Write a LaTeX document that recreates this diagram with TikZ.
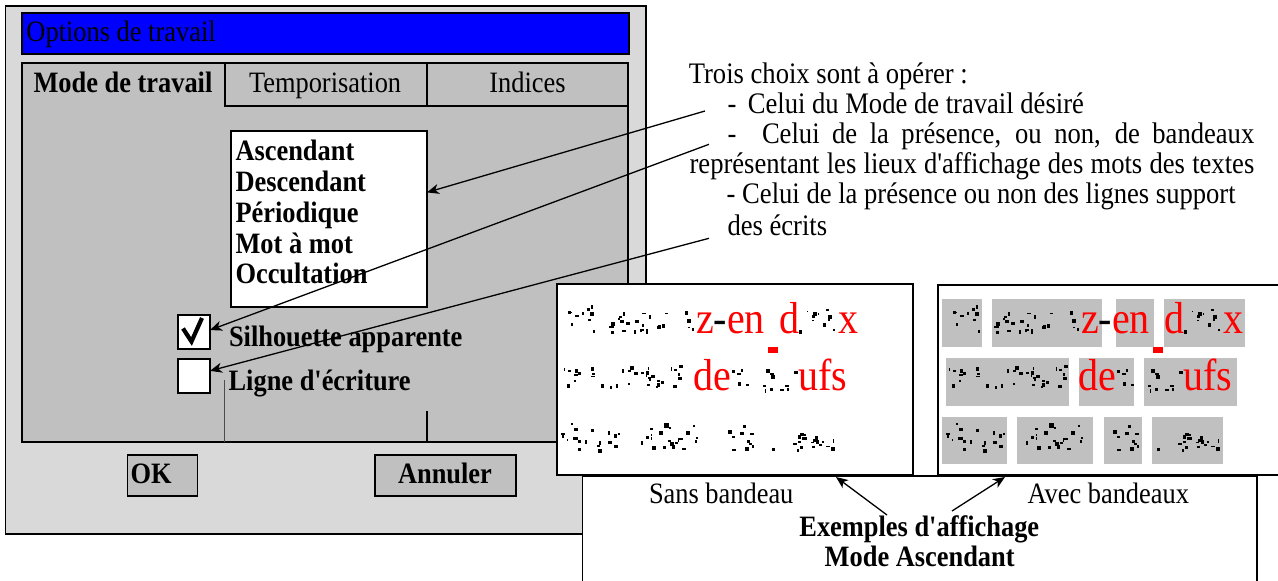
\documentclass[tikz,border=0pt]{standalone}
\usepackage{graphicx}
\usepackage{fontspec}
\setmainfont{Liberation Serif}
\usetikzlibrary{arrows.meta}
\definecolor{dlg}{HTML}{D9D9D9}
\definecolor{pnl}{HTML}{C0C0C0}
\definecolor{ttl}{HTML}{0000FF}
\definecolor{redtxt}{HTML}{FF0000}
\newcommand{\ap}{\textquotesingle}
\newcommand{\ys}[1]{\scalebox{1}[1.12]{#1}}
\newcommand{\noiseblk}[4]{%
  \pgfmathtruncatemacro{\nnoise}{max(3,(#2-#1)/3.2)}%
  \foreach \k in {1,...,\nnoise}{%
    \pgfmathsetmacro{\nxa}{#1+rnd*(#2-#1)}%
    \pgfmathsetmacro{\nya}{#3+rnd*(#4-#3)}%
    \pgfmathsetmacro{\nwa}{1.5+rnd*3}%
    \pgfmathsetmacro{\nha}{1.5+rnd*2.8}%
    \fill[black] (\nxa,\nya) rectangle ++(\nwa,\nha);
  }}
\newcommand{\examplecontent}[1]{%
  \pgfmathsetseed{4321}%
  \foreach \ra/\rb/\rc/\rd in {561/596/305/331, 609/694/307/331, 799/836/307/331,
      563/683/365/389, 731/748/367/389, 762/797/367/389,
      561/620/423/450, 636/706/423/450, 722/756/423/450, 770/836/425/450}{%
    \noiseblk{\ra}{\rb}{\rc}{\rd}}%
  \node[redw, anchor=base west] (#1w1) at (696,333) {\ys{z\textcolor{black}{-}en}};
  \node[redw, anchor=base west] (#1w2) at (779,333) {\ys{d}};
  \node[redw, anchor=base west] (#1w3) at (838,333) {\ys{x}};
  \node[redw, anchor=base west] (#1w4) at (693,390) {\ys{de}};
  \node[redw, anchor=base west] (#1w5) at (798,390) {\ys{ufs}};
  \fill[redtxt] (767.5,347) rectangle (777.5,353);
}
\begin{document}
\begin{tikzpicture}[x=1pt,y=-1pt,
  txt/.style={font=\fontsize{26.4}{30}\selectfont, inner sep=0pt, outer sep=0pt},
  btxt/.style={font=\fontsize{26.4}{30}\selectfont\bfseries, inner sep=0pt, outer sep=0pt},
  rtxt/.style={font=\fontsize{26.6}{30}\selectfont, inner sep=0pt, outer sep=0pt},
  redw/.style={font=\fontsize{40}{40}\selectfont, text=redtxt, inner sep=0pt, outer sep=0pt},
  frame/.style={draw=black, line width=1.6pt},
  box/.style={draw=black, line width=2pt, inner sep=0pt, outer sep=0pt},
  arr/.style={-{Stealth[length=12pt,width=10pt,inset=3.5pt]}, line width=1.3pt},
]
\useasboundingbox (0,0) rectangle (1278,581);
\clip (0,0) rectangle (1278,581);

% dialog
\fill[dlg] (5.5,6) rectangle (646,534);
\draw[frame] (5.5,6) rectangle (646,534);
\draw[frame, fill=ttl] (22,13) rectangle (629,54);
\node[txt, anchor=base west] (title) at (26.5,41.5) {\ys{Options de travail}};
\draw[frame, fill=pnl] (22,63) rectangle (628,442);
\draw[frame] (225,63) -- (225,106) -- (628,106);
\draw[frame] (427,63) -- (427,106);
\node[btxt, anchor=base west] (tab1) at (33.5,92) {\ys{Mode de travail}};
\node[txt, anchor=base west] (tab2) at (249,92) {\ys{Temporisation}};
\node[txt, anchor=base] (tab3) at (527.5,92) {\ys{Indices}};
\draw[line width=0.9pt, black!70] (224,380) -- (224,442);
\draw[line width=1.2pt] (427,411) -- (427,442);

% list
\node[box, fill=white, minimum width=196.4pt, minimum height=176pt, anchor=north west] (list) at (230.6,130.7) {};
\node[btxt, anchor=base west] (l1) at (235.5,160) {\ys{Ascendant}};
\node[btxt, anchor=base west] (l2) at (235.5,191.5) {\ys{Descendant}};
\node[btxt, anchor=base west] (l3) at (235.5,222) {\ys{Périodique}};
\node[btxt, anchor=base west] (l4) at (235.5,253) {\ys{Mot à mot}};
\node[btxt, anchor=base west] (l5) at (235.5,283.5) {\ys{Occultation}};

% checkboxes
\node[box, fill=white, minimum width=31.7pt, minimum height=34pt, anchor=north west] (cb1) at (178.3,315) {};
\node[box, fill=white, minimum width=31.7pt, minimum height=33.4pt, anchor=north west] (cb2) at (178.3,359.3) {};
\draw[line width=4.2pt] (183,328.5) -- (191.5,341.5) -- (202,318);
\node[btxt, anchor=base west] (lab1) at (229,346.7) {\ys{Silhouette apparente}};
\node[btxt, anchor=base west] (lab2) at (228.6,390) {\ys{Ligne d\ap écriture}};

% buttons
\node[frame, fill=pnl, inner sep=0pt, minimum width=70.2pt, minimum height=41pt, anchor=north west] (okb) at (126.5,454) {};
\node[btxt, anchor=base west] (okt) at (130.6,483.3) {\ys{OK}};
\node[frame, fill=pnl, inner sep=0pt, minimum width=141pt, minimum height=41pt, anchor=north west] (anb) at (374.3,454) {};
\node[btxt, anchor=base] (ant) at (445,483.3) {\ys{Annuler}};

% example boxes
\node[box, line width=1.6pt, fill=white, minimum width=356.3pt, minimum height=191pt, anchor=north west] (exL) at (556.7,284) {};
\node[box, line width=1.6pt, fill=white, minimum width=360pt, minimum height=190pt, anchor=north west] (exR) at (938,285) {};
\examplecontent{L}
\begin{scope}[xshift=385pt]
  \fill[pnl] (557,299) rectangle (597,347);
  \fill[pnl] (607,299) rectangle (717,347);
  \fill[pnl] (731,299) rectangle (769,347);
  \fill[pnl] (779,299) rectangle (860,347);
  \fill[pnl] (561,358) rectangle (684,406);
  \fill[pnl] (694,358) rectangle (749,406);
  \fill[pnl] (759,358) rectangle (852,406);
  \fill[pnl] (557,417) rectangle (622,464);
  \fill[pnl] (632,417) rectangle (708,464);
  \fill[pnl] (719,417) rectangle (757,464);
  \fill[pnl] (767,417) rectangle (838,464);
  \examplecontent{R}
\end{scope}

% caption box
\node[box, line width=1.6pt, fill=white, minimum width=674.4pt, minimum height=130pt, anchor=north west] (cap) at (582.3,476) {};
\node[txt, anchor=base west] (sans) at (649,503.3) {\ys{Sans bandeau}};
\node[txt, anchor=base west] (avec) at (1027.5,503.3) {\ys{Avec bandeaux}};
\node[btxt, anchor=base] (exa) at (919.3,536.7) {\ys{Exemples d\ap affichage}};
\node[btxt, anchor=base] (mas) at (919.7,566.7) {\ys{Mode Ascendant}};
\coordinate (ca1) at (887,515);
\coordinate (ct1) at (836,477);
\coordinate (ca2) at (952,511);
\coordinate (ct2) at (1005,477);
\draw[arr] (ca1) -- (ct1);
\draw[arr] (ca2) -- (ct2);

% right text
\node[rtxt, anchor=base west] (r1) at (688.8,83.3) {\ys{Trois choix sont à opérer :}};
\node[rtxt, anchor=base west] (r2d) at (727.5,113.3) {\ys{-}};
\node[rtxt, anchor=base west] (r2) at (747.8,113.3) {\ys{Celui du Mode de travail désiré}};
\node[rtxt, anchor=base west] (r3d) at (727.5,143.3) {\ys{-}};
\node[rtxt, anchor=base west] (r3) at (762,143.3) {\ys{\makebox[492.3pt][s]{Celui de la présence, ou non, de bandeaux}}};
\node[rtxt, anchor=base west] (r4) at (689.6,173.3) {\ys{\makebox[564.7pt][s]{représentant les lieux d\ap affichage des mots des textes}}};
\node[rtxt, anchor=base west] (r5) at (726.7,203.3) {\ys{- Celui de la présence ou non des lignes support}};
\node[rtxt, anchor=base west] (r6) at (727.5,235) {\ys{des écrits}};

\coordinate (s1) at (705,111);
\coordinate (s2) at (709,144.3);
\coordinate (s3) at (709,238.3);
\draw[arr] (s1) -- (list.15.2);
\draw[arr] (s2) -- (cb1.7.2);
\draw[arr] (s3) -- (cb2.18.5);
\end{tikzpicture}
\end{document}
